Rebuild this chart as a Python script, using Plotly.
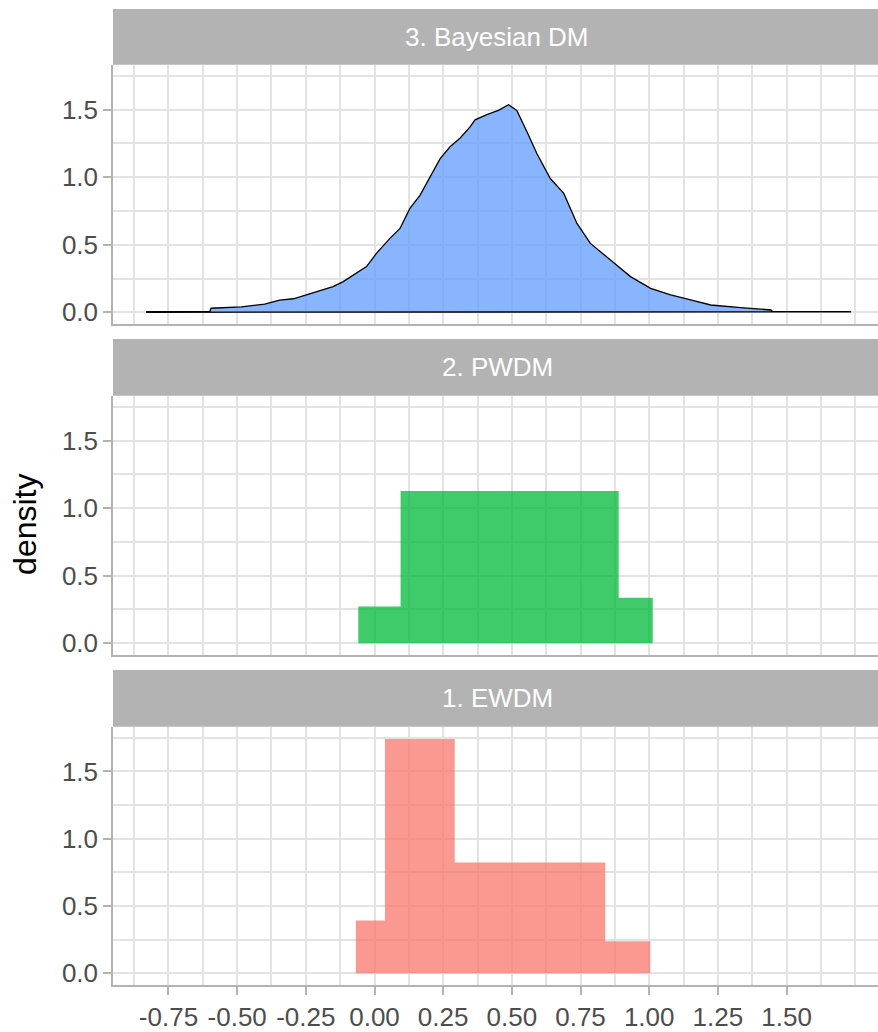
import plotly.graph_objects as go

# ---------------- data ----------------
panel_titles = ["3. Bayesian DM", "2. PWDM", "1. EWDM"]

# Bayesian DM density curve
bayes_x = [-0.832, -0.600, -0.595, -0.485, -0.400, -0.345, -0.295, -0.248, -0.199, -0.151,
           -0.114, -0.078, -0.029, 0.007, 0.056, 0.093, 0.129, 0.166, 0.202, 0.239,
           0.275, 0.312, 0.348, 0.366, 0.409, 0.433, 0.451, 0.488, 0.518, 0.555,
           0.591, 0.640, 0.689, 0.737, 0.786, 0.859, 0.932, 1.005, 1.078, 1.151,
           1.224, 1.333, 1.443, 1.450, 1.735]
bayes_y = [0.004, 0.004, 0.030, 0.040, 0.060, 0.090, 0.100, 0.128, 0.157, 0.190,
           0.227, 0.276, 0.338, 0.436, 0.547, 0.621, 0.769, 0.867, 1.003, 1.138,
           1.225, 1.290, 1.372, 1.425, 1.463, 1.483, 1.495, 1.537, 1.495, 1.336,
           1.175, 0.990, 0.880, 0.658, 0.510, 0.387, 0.264, 0.177, 0.128, 0.091,
           0.054, 0.035, 0.017, 0.004, 0.004]

# PWDM histogram (bin edges and heights)
pwdm_edges = [-0.059, 0.095, 0.889, 1.013]
pwdm_heights = [0.272, 1.128, 0.337]

# EWDM histogram (bin edges and heights)
ewdm_edges = [-0.068, 0.038, 0.292, 0.840, 1.004]
ewdm_heights = [0.392, 1.742, 0.823, 0.238]

x_ticks = [-0.75, -0.50, -0.25, 0.00, 0.25, 0.50, 0.75, 1.00, 1.25, 1.50]
y_ticks = [0.0, 0.5, 1.0, 1.5]

# ---------------- styling ----------------
FONT = "Liberation Sans, Arial, sans-serif"
GRID = "#E3E3E3"
BORDER = "#B3B3B3"
TICKTXT = "#4D4D4D"

W, H = 878, 1032
ML, MR, MT, MB = 113, 0, 9, 44
PH = H - MT - MB


def py(px):
    return (H - MB - px) / PH


panels_px = [(65, 325), (397, 657), (729, 988)]
strips_px = [(9, 65), (340, 397), (672, 729)]

x_range = [-0.952, 1.833]
y_range = [-0.087, 1.832]

x_minor = [v / 8 for v in range(-7, 15)]
x_minor = [v for v in x_minor if v not in x_ticks]
y_minor = [0.25, 0.75, 1.25, 1.75]

fig = go.Figure()

# Bayesian density: closed outline (upper + baseline)
fig.add_trace(go.Scatter(
    x=bayes_x + bayes_x[::-1],
    y=bayes_y + [0] * len(bayes_y),
    mode="lines", fill="toself",
    fillcolor="rgba(97,156,255,0.75)",
    line=dict(color="black", width=1.3),
    xaxis="x", yaxis="y", showlegend=False, hoverinfo="skip"))


def hist_trace(edges, heights, color, xa, ya):
    # histogram drawn as one step polygon built from the bin edges / heights
    xs, ys = [edges[0]], [0]
    for a, b, h in zip(edges[:-1], edges[1:], heights):
        xs += [a, b]
        ys += [h, h]
    xs.append(edges[-1])
    ys.append(0)
    return go.Scatter(x=xs, y=ys, mode="lines", fill="toself",
                      fillcolor=color, line=dict(width=0, color=color),
                      xaxis=xa, yaxis=ya, showlegend=False, hoverinfo="skip")


fig.add_trace(hist_trace(pwdm_edges, pwdm_heights, "rgba(0,186,56,0.75)", "x2", "y2"))
fig.add_trace(hist_trace(ewdm_edges, ewdm_heights, "rgba(248,118,109,0.75)", "x3", "y3"))

layout = dict(
    width=W, height=H,
    margin=dict(l=ML, r=MR, t=MT, b=MB),
    paper_bgcolor="white", plot_bgcolor="white",
    font=dict(family=FONT, size=26, color=TICKTXT),
    showlegend=False,
)

shapes = []
annotations = []
for i, ((top, bot), (st, sb), title) in enumerate(zip(panels_px, strips_px, panel_titles)):
    n = "" if i == 0 else str(i + 1)
    last = (i == 2)
    layout["xaxis" + n] = dict(
        domain=[0, 1], anchor="y" + n, range=x_range,
        tickmode="array", tickvals=x_ticks,
        ticktext=[f"{v:.2f}" for v in x_ticks],
        showticklabels=last, ticks="outside" if last else "",
        ticklen=8, tickwidth=1.5, tickcolor=BORDER,
        tickfont=dict(size=26, color=TICKTXT, family=FONT),
        showgrid=True, gridcolor=GRID, gridwidth=1.8,
        minor=dict(tickmode="array", tickvals=x_minor, showgrid=True,
                   gridcolor=GRID, gridwidth=1.8, ticks=""),
        showline=True, linecolor=BORDER, linewidth=1.5,
        zeroline=False, fixedrange=True,
    )
    if i > 0:
        layout["xaxis" + n]["matches"] = "x"
    layout["yaxis" + n] = dict(
        domain=[py(bot), py(top)], anchor="x" + n, range=y_range,
        tickmode="array", tickvals=y_ticks,
        ticktext=[f"{v:.1f}" for v in y_ticks],
        ticks="outside", ticklen=8, tickwidth=1.5, tickcolor=BORDER,
        tickfont=dict(size=26, color=TICKTXT, family=FONT),
        showgrid=True, gridcolor=GRID, gridwidth=1.8,
        minor=dict(tickmode="array", tickvals=y_minor, showgrid=True,
                   gridcolor=GRID, gridwidth=1.8, ticks=""),
        showline=True, linecolor=BORDER, linewidth=1.5,
        zeroline=False, fixedrange=True,
    )
    shapes.append(dict(type="rect", xref="paper", yref="paper",
                       x0=0, x1=1.02, y0=py(sb), y1=py(st),
                       fillcolor=BORDER, line=dict(width=0), layer="above"))
    annotations.append(dict(text=title, xref="paper", yref="paper",
                            x=(497 - ML) / (W - ML - MR), y=(py(sb) + py(st)) / 2,
                            xanchor="center", yanchor="middle", showarrow=False,
                            font=dict(size=26, color="white", family=FONT)))

annotations.append(dict(text="density", xref="paper", yref="paper",
                        x=(25 - ML) / (W - ML - MR), y=py(526.5),
                        xanchor="center", yanchor="middle", showarrow=False,
                        textangle=-90,
                        font=dict(size=32, color="black", family=FONT)))

layout["shapes"] = shapes
layout["annotations"] = annotations
fig.update_layout(**layout)

fig.write_html(
    "out.html",
    config={"displayModeBar": False},
    post_script="document.body.style.margin='0px';document.body.style.overflow='hidden';",
)
